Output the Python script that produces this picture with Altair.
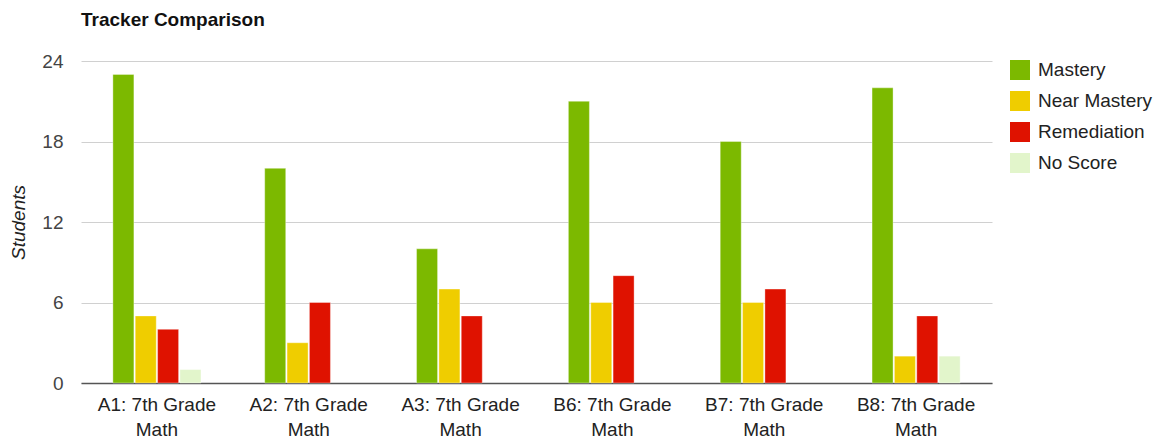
import altair as alt
import pandas as pd

groups = ["A1: 7th Grade Math", "A2: 7th Grade Math", "A3: 7th Grade Math",
          "B6: 7th Grade Math", "B7: 7th Grade Math", "B8: 7th Grade Math"]
series = ["Mastery", "Near Mastery", "Remediation", "No Score"]
mastery = [23, 16, 10, 21, 18, 22]
near_mastery = [5, 3, 7, 6, 6, 2]
remediation = [4, 6, 5, 8, 7, 5]
no_score = [1, 0, 0, 0, 0, 2]
colors = ["#7cb900", "#efcd00", "#df1200", "#e2f5cb"]
y_ticks = [0, 6, 12, 18, 24]

rows = []
for vals, s in zip([mastery, near_mastery, remediation, no_score], series):
    for g, v in zip(groups, vals):
        rows.append({"group": g, "series": s, "value": v})
df = pd.DataFrame(rows)

FONT = "Liberation Sans"

chart = alt.Chart(df).transform_filter("datum.value > 0").mark_bar(
    stroke="#ffffff", strokeOpacity=0.35, strokeWidth=1
).encode(
    x=alt.X("group:N", sort=groups, title=None,
            scale=alt.Scale(domain=groups, paddingInner=0.42, paddingOuter=0.21),
            axis=alt.Axis(labelAngle=0, labelFontSize=19, labelColor="#222222",
                          labelFont=FONT, labelPadding=12, labelLineHeight=25,
                          labelExpr="[replace(datum.label, ' Math', ''), 'Math']",
                          ticks=False, domainColor="#555555", domainWidth=1.5,
                          grid=False)),
    xOffset=alt.XOffset("series:N", sort=series,
                        scale=alt.Scale(domain=series, paddingInner=0.06)),
    y=alt.Y("value:Q", scale=alt.Scale(domain=[0, 24], nice=False),
            axis=alt.Axis(values=y_ticks, title="Students", titleFontStyle="italic",
                          titleFontWeight="normal", titleFontSize=19, titleFont=FONT,
                          titleColor="#222222", titleAngle=-90, titleX=-63, titleY=161,
                          titleAlign="center", titleBaseline="middle",
                          labelFontSize=19, labelColor="#444444", labelFont=FONT,
                          labelPadding=18, ticks=False, domain=False,
                          gridColor="#d0d0d0", gridWidth=1)),
    color=alt.Color("series:N", sort=series,
                    scale=alt.Scale(domain=series, range=colors),
                    legend=alt.Legend(title=None, orient="none", legendX=929, legendY=-1,
                                      symbolType="square", symbolSize=400,
                                      symbolStrokeWidth=0, labelFontSize=19,
                                      labelFont=FONT, labelColor="#222222",
                                      rowPadding=11, labelOffset=8)),
).properties(
    width=911, height=322,
    title=alt.TitleParams("Tracker Comparison", anchor="start", frame="group",
                          fontSize=19, fontWeight="bold", font=FONT, color="#111111",
                          offset=22),
    padding={"left": 81, "top": 61, "right": 166, "bottom": 60},
    autosize=alt.AutoSizeParams(type="none"),
).configure_view(stroke=None)

chart.save("out.html", embed_options={"renderer": "svg", "actions": False})
